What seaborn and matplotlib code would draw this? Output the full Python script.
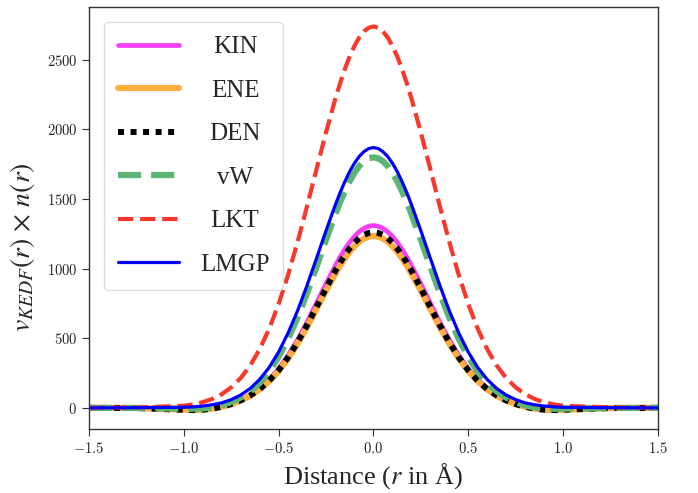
import numpy as np
import pandas as pd
import matplotlib
matplotlib.use("Agg")
import matplotlib.pyplot as plt
import matplotlib.transforms as mtransforms
from matplotlib.ticker import FixedLocator, FixedFormatter
import seaborn as sns

# ---- data ----
distance = [-1.5, -1.25, -1.0, -0.95, -0.9, -0.85, -0.8, -0.75, -0.7, -0.65, -0.6,
            -0.55, -0.5, -0.45, -0.4, -0.35, -0.3, -0.25, -0.2, -0.175, -0.15, -0.125,
            -0.1, -0.075, -0.05, -0.025, 0.0, 0.025, 0.05, 0.075, 0.1, 0.125, 0.15,
            0.175, 0.2, 0.25, 0.3, 0.35, 0.4, 0.45, 0.5, 0.55, 0.6, 0.65, 0.7, 0.75,
            0.8, 0.85, 0.9, 0.95, 1.0, 1.25, 1.5]

kin = [0, -1, -9, -9, -6, 1, 14, 32, 58, 94, 141, 202, 281, 377, 489, 616, 753, 892,
       1024, 1085, 1141, 1190, 1232, 1265, 1290, 1305, 1310, 1305, 1290, 1265, 1232,
       1190, 1141, 1085, 1024, 892, 753, 616, 489, 377, 281, 202, 141, 94, 58, 32, 14,
       1, -6, -9, -9, -1, 0]

ene = [0, -1, -14, -16, -14, -6, 7, 26, 52, 87, 132, 191, 265, 355, 461, 581, 710, 841,
       965, 1023, 1075, 1122, 1161, 1193, 1216, 1230, 1235, 1230, 1216, 1193, 1161,
       1122, 1075, 1023, 965, 841, 710, 581, 461, 355, 265, 191, 132, 87, 52, 26, 7,
       -6, -14, -16, -14, -1, 0]

den = [0, -1, -14, -16, -13, -6, 8, 27, 54, 89, 135, 195, 270, 363, 471, 594, 725, 859,
       987, 1045, 1099, 1146, 1187, 1219, 1243, 1257, 1262, 1257, 1243, 1219, 1187,
       1146, 1099, 1045, 987, 859, 725, 594, 471, 363, 270, 195, 135, 89, 54, 27, 8,
       -6, -13, -16, -14, -1, 0]

vw = [0, -1, -6, -6, -4, 2, 18, 42, 74, 118, 178, 260, 366, 495, 649, 824, 1014, 1208,
      1395, 1481, 1559, 1629, 1689, 1737, 1772, 1793, 1800, 1793, 1772, 1737, 1689,
      1629, 1559, 1481, 1395, 1208, 1014, 824, 649, 495, 366, 260, 178, 118, 74, 42,
      18, 2, -4, -6, -6, -1, 0]

lkt = [0, 3, 15, 25, 41, 64, 98, 147, 214, 304, 421, 568, 746, 955, 1192, 1449, 1716,
       1979, 2225, 2336, 2437, 2526, 2601, 2661, 2705, 2731, 2740, 2731, 2705, 2661,
       2601, 2526, 2437, 2336, 2225, 1979, 1716, 1449, 1192, 955, 746, 568, 421, 304,
       214, 147, 98, 64, 41, 25, 15, 3, 0]

lmgp = [0, 1, 4, 7, 13, 22, 36, 59, 92, 139, 204, 290, 401, 538, 698, 880, 1075, 1273,
        1462, 1549, 1628, 1699, 1758, 1806, 1841, 1863, 1870, 1863, 1841, 1806, 1758,
        1699, 1628, 1549, 1462, 1273, 1075, 880, 698, 538, 401, 290, 204, 139, 92, 59,
        36, 22, 13, 7, 4, 1, 0]

labels = ["KIN", "ENE", "DEN", "vW", "LKT", "LMGP"]
series = [kin, ene, den, vw, lkt, lmgp]

xticks = [-1.5, -1.0, -0.5, 0.0, 0.5, 1.0, 1.5]
xticklabels = [r"$-1.5$", r"$-1.0$", r"$-0.5$", r"$0.0$", r"$0.5$", r"$1.0$", r"$1.5$"]
yticks = [0, 500, 1000, 1500, 2000, 2500]
yticklabels = [r"$0$", r"$500$", r"$1000$", r"$1500$", r"$2000$", r"$2500$"]

# ---- style ----
sns.set_style("ticks")
plt.rcParams["font.family"] = ["Liberation Serif", "DejaVu Serif"]
plt.rcParams["mathtext.fontset"] = "stix"
plt.rcParams["axes.edgecolor"] = "#333333"
plt.rcParams["axes.linewidth"] = 1.0
plt.rcParams["xtick.color"] = "#333333"
plt.rcParams["ytick.color"] = "#333333"
plt.rcParams["xtick.major.size"] = 5
plt.rcParams["ytick.major.size"] = 5

styles = [
    dict(color="#f43ff4", lw=3.4, linestyle="-"),
    dict(color="#ffad3c", lw=4.4, linestyle="-"),
    dict(color="black", lw=4.3, linestyle=(0, (1, 1.1))),
    dict(color="#5db574", lw=4.5, linestyle=(0, (3.7, 1.6))),
    dict(color="#f8382a", lw=3.0, linestyle=(0, (3.7, 1.6))),
    dict(color="#0000ff", lw=2.3, linestyle="-"),
]

fig = plt.figure(figsize=(6.98, 4.93), dpi=100)
ax = fig.add_axes([0.1275, 0.1298, 0.815, 0.856])

for lab, ys, st in zip(labels, series, styles):
    df = pd.DataFrame({"r": distance, "v": ys})
    sns.lineplot(data=df, x="r", y="v", ax=ax, label=lab, **st)

ax.set_xlim(-1.5, 1.5)
ax.set_ylim(-152, 2880)
ax.xaxis.set_major_locator(FixedLocator(xticks))
ax.xaxis.set_major_formatter(FixedFormatter(xticklabels))
ax.yaxis.set_major_locator(FixedLocator(yticks))
ax.yaxis.set_major_formatter(FixedFormatter(yticklabels))
for t in ax.get_xticklabels() + ax.get_yticklabels():
    t.set_math_fontfamily("cm")
    t.set_fontsize(10.5)
    t.set_color("#222222")

ax.set_xlabel("Distance ($r$ in Å)", fontsize=19, labelpad=4)
ax.set_ylabel(r"$v_{KEDF}(r)\,\times\,n(r)$", fontsize=20)
ax.yaxis.set_label_coords(-0.092, 0.43)

leg = ax.legend(loc="upper left", fontsize=18, handlelength=2.45,
                handletextpad=0.85, labelspacing=0.84, borderpad=0.55,
                borderaxespad=0.6, frameon=True, fancybox=True)
leg.get_frame().set_edgecolor("#d6d6d6")
leg.get_frame().set_linewidth(1.0)

# center legend labels in their column
fig.canvas.draw()
renderer = fig.canvas.get_renderer()
texts = leg.get_texts()
widths = [t.get_window_extent(renderer).width for t in texts]
mw = max(widths)
for t, w in zip(texts, widths):
    t.set_transform(t.get_transform() + mtransforms.Affine2D().translate((mw - w) / 2, 0))

fig.savefig("out.png", dpi=100)
